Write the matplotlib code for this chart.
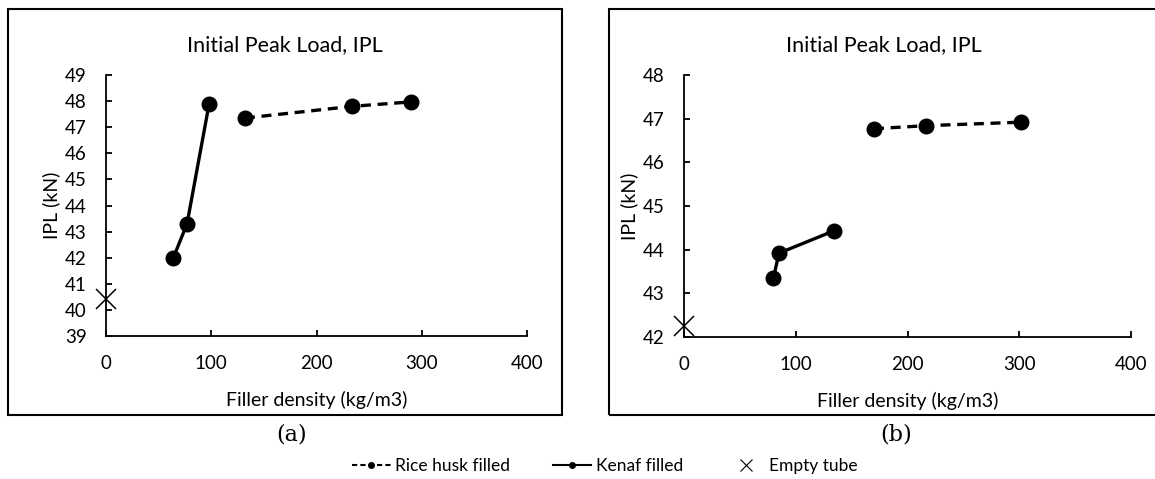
import matplotlib
matplotlib.use("Agg")
import matplotlib.pyplot as plt
from matplotlib.patches import Rectangle
from matplotlib.lines import Line2D

plt.rcParams['font.family'] = ['Lato', 'DejaVu Sans']

# Panel (a)
kenaf_x_a = [64, 77, 98]
kenaf_y_a = [42.0, 43.3, 47.9]
rice_x_a = [132, 234, 290]
rice_y_a = [47.35, 47.8, 47.97]
empty_x_a = [0]
empty_y_a = [40.4]

# Panel (b)
kenaf_x_b = [80, 85, 134]
kenaf_y_b = [43.35, 43.92, 44.43]
rice_x_b = [170, 217, 302]
rice_y_b = [46.77, 46.84, 46.92]
empty_x_b = [0]
empty_y_b = [42.25]

W, H = 1155, 479
fig = plt.figure(figsize=(W / 100, H / 100), dpi=100)


def px_axes(x0, x1, ytop, ybot):
    return [x0 / W, (H - ybot) / H, (x1 - x0) / W, (ybot - ytop) / H]


def style(ax, ylim, yticks):
    ax.set_xlim(0, 400)
    ax.set_ylim(*ylim)
    ax.set_xticks([0, 100, 200, 300, 400])
    ax.set_yticks(yticks)
    for s in ['top', 'right']:
        ax.spines[s].set_visible(False)
    for s in ['left', 'bottom']:
        ax.spines[s].set_linewidth(1.3)
    ax.tick_params(direction='in', length=4.5, width=1.3, labelsize=13.5, pad=14)
    ax.set_xlabel('Filler density (kg/m3)', fontsize=14, labelpad=13)
    ax.set_ylabel('IPL (kN)', fontsize=14, labelpad=3)
    ax.patch.set_alpha(0)


def draw(ax, kx, ky, rx, ry, ex, ey):
    ax.plot(rx, ry, color='black', lw=2.4, ls=(0, (3, 2)), marker='o', ms=10.5,
            clip_on=False, zorder=3)
    ax.plot(kx, ky, color='black', lw=2.4, marker='o', ms=10.5, clip_on=False, zorder=3)
    ax.plot(ex, ey, ls='none', marker='x', ms=15, mew=1.1, color='black',
            clip_on=False, zorder=4)


ax1 = fig.add_axes(px_axes(106, 527, 75, 336))
draw(ax1, kenaf_x_a, kenaf_y_a, rice_x_a, rice_y_a, empty_x_a, empty_y_a)
style(ax1, (39, 49), range(39, 50))

ax2 = fig.add_axes(px_axes(684, 1131, 75, 337))
draw(ax2, kenaf_x_b, kenaf_y_b, rice_x_b, rice_y_b, empty_x_b, empty_y_b)
style(ax2, (42, 48), range(42, 49))

# chart boxes
fig.patches.append(Rectangle((8 / W, (H - 415) / H), (562 - 8) / W, (415 - 9) / H,
                             transform=fig.transFigure, fill=False, lw=1.5,
                             edgecolor='black'))
fig.patches.append(Rectangle((609 / W, (H - 415) / H), (1160 - 609) / W, (415 - 9) / H,
                             transform=fig.transFigure, fill=False, lw=1.5,
                             edgecolor='black'))

fig.text(285 / W, 1 - 45 / H, 'Initial Peak Load, IPL', ha='center', va='center',
         fontsize=15.5)
fig.text(884 / W, 1 - 45 / H, 'Initial Peak Load, IPL', ha='center', va='center',
         fontsize=15.5)

fig.text(292 / W, 1 - 434 / H, '(a)', ha='center', va='center', fontsize=16,
         family='DejaVu Serif')
fig.text(896 / W, 1 - 434 / H, '(b)', ha='center', va='center', fontsize=16,
         family='DejaVu Serif')

handles = [
    Line2D([], [], color='black', lw=1.5, ls=(0, (2.5, 1.5)), marker='o', ms=4),
    Line2D([], [], color='black', lw=1.5, marker='o', ms=4),
    Line2D([], [], color='black', ls='none', marker='x', ms=8, mew=0.8),
]
fig.legend(handles, ['Rice husk filled', 'Kenaf filled', 'Empty tube'],
           loc='center', bbox_to_anchor=(605 / W, 1 - 466 / H), ncol=3,
           frameon=False, fontsize=12.5, handlelength=2.2, handletextpad=0.25,
           columnspacing=2.5)

fig.savefig('out.png', dpi=100)
